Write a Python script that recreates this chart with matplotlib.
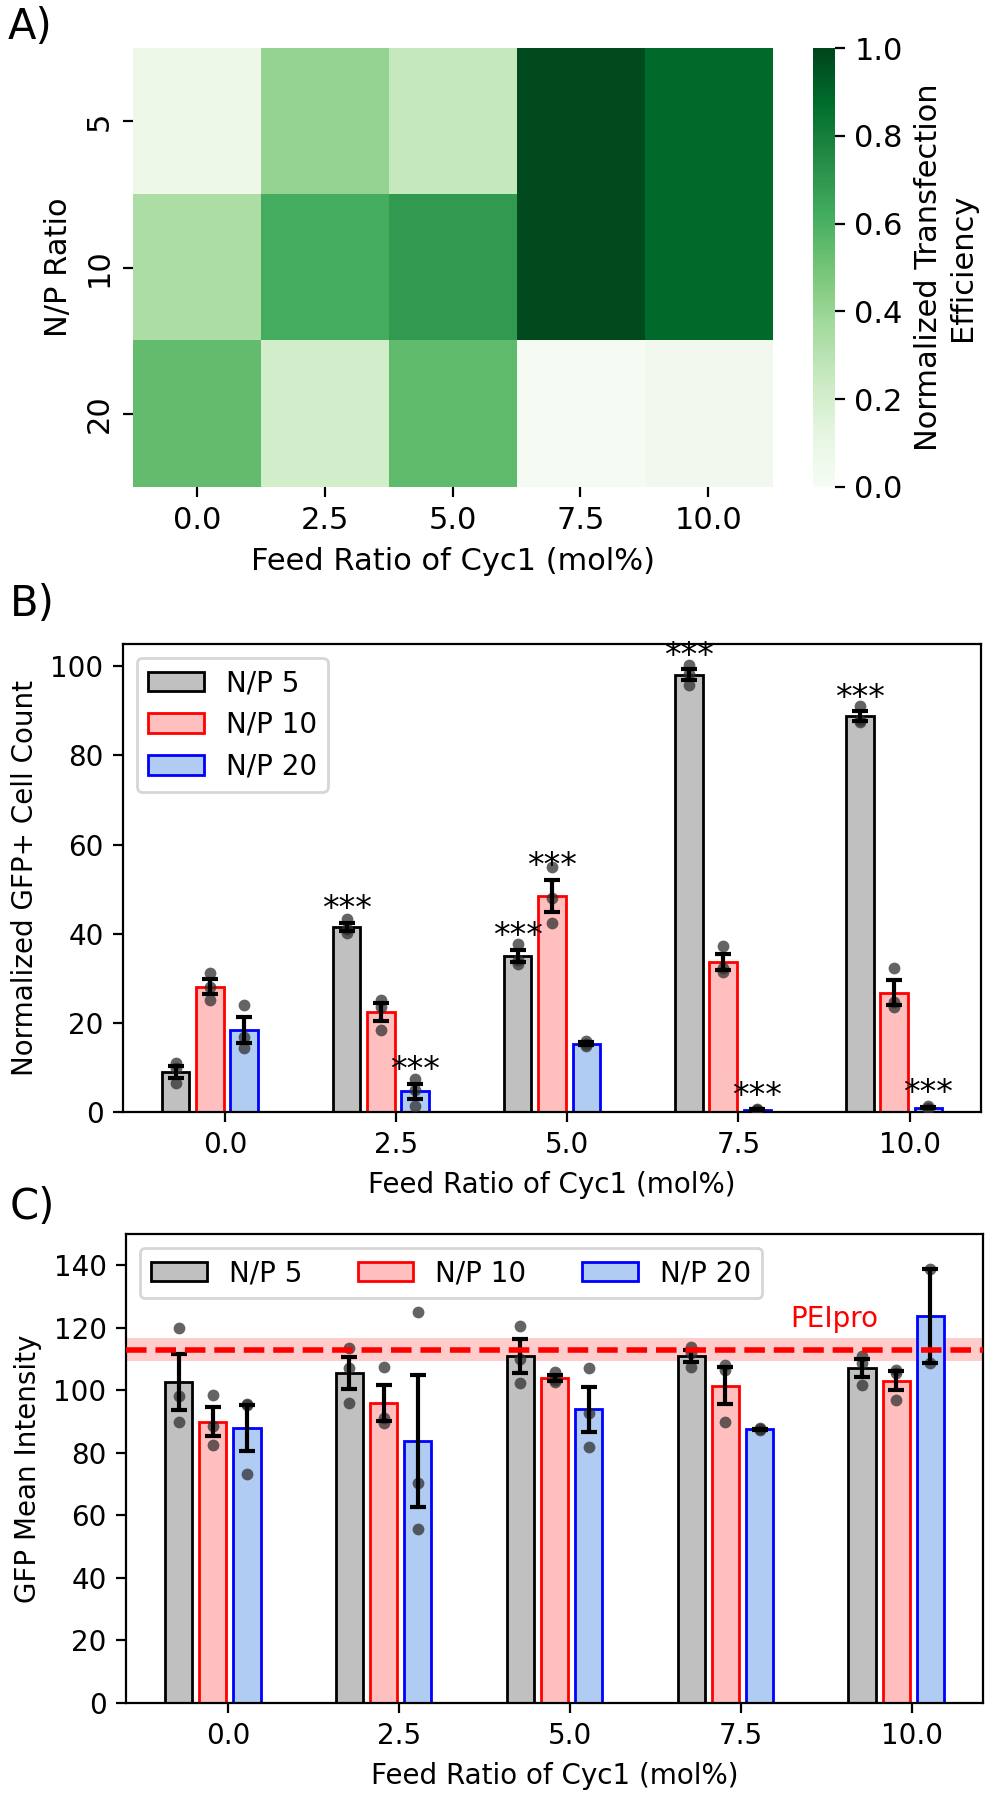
import numpy as np
import matplotlib
matplotlib.use("Agg")
import matplotlib.pyplot as plt
from matplotlib.patches import Patch

# ---------------- data ----------------
feed_labels = ["0.0", "2.5", "5.0", "7.5", "10.0"]
np_labels = ["5", "10", "20"]
series_names = ["N/P 5", "N/P 10", "N/P 20"]

# Panel A: normalized transfection efficiency (rows: N/P 5, 10, 20)
heat_np5 = [0.07, 0.41, 0.25, 0.98, 0.88]
heat_np10 = [0.34, 0.62, 0.69, 0.98, 0.88]
heat_np20 = [0.54, 0.21, 0.55, 0.01, 0.04]

# Panel B: normalized GFP+ cell count, replicate points
gfp_np5 = [[10.9, 9.8, 6.4], [43.3, 41.0, 40.2], [37.7, 34.1, 33.2], [100.2, 98.3, 95.8], [91.0, 88.0, 87.4]]
gfp_np10 = [[31.2, 28.0, 25.2], [25.2, 23.6, 18.4], [54.9, 48.1, 42.3], [37.3, 32.3, 31.5], [32.2, 24.6, 23.6]]
gfp_np20 = [[24.0, 16.8, 14.4], [7.4, 5.0, 1.4], [16.0, 15.2, 14.8], [0.7, 0.5, 0.4], [1.4, 0.9, 0.7]]
sig_np5 = ["", "***", "***", "***", "***"]
sig_np10 = ["", "", "***", "", ""]
sig_np20 = ["", "***", "", "***", "***"]

# Panel C: GFP mean intensity, replicate points
mi_np5 = [[119.9, 98.2, 90.0], [113.5, 107.0, 95.9], [120.6, 110.0, 102.3], [114.0, 111.9, 107.4], [111.0, 108.7, 101.8]]
mi_np10 = [[98.6, 88.6, 82.6], [107.6, 91.0, 89.5], [106.0, 103.4, 102.6], [108.2, 106.4, 90.0], [106.6, 105.5, 97.0]]
mi_np20 = [[95.7, 95.2, 73.3], [125.2, 70.5, 55.6], [107.1, 92.6, 82.0], [87.8, 87.5, 87.3], [138.8, 108.9]]
pei_mean = 113.0
pei_sem = 3.6

# ---------------- style ----------------
face_colors = ["#c0c0c0", "#ffbfbf", "#b0ccf3"]
edge_colors = ["black", "red", "blue"]
offsets = [-0.29, -0.09, 0.11]
bar_w = 0.16

plt.rcParams["font.family"] = "DejaVu Sans"
plt.rcParams["font.size"] = 10

W, H = 996, 1800
fig = plt.figure(figsize=(W / 200, H / 200), dpi=200)


def box(l, t, r, b):
    return [l / W, 1 - b / H, (r - l) / W, (b - t) / H]


# ---------------- Panel A ----------------
axA = fig.add_axes(box(133, 48, 772, 487))
heat = np.array([heat_np5, heat_np10, heat_np20])
im = axA.imshow(heat, cmap="Greens", vmin=0, vmax=1, aspect="auto", interpolation="nearest")
axA.set_xticks(range(len(feed_labels)))
axA.set_xticklabels(feed_labels, fontsize=11)
axA.set_yticks(range(len(np_labels)))
axA.set_yticklabels(np_labels, fontsize=11, rotation=90, va="center")
axA.set_xlabel("Feed Ratio of Cyc1 (mol%)", fontsize=11)
axA.set_ylabel("N/P Ratio", fontsize=11)
for s in axA.spines.values():
    s.set_visible(False)
cax = fig.add_axes(box(813, 48, 835, 487))
cb = fig.colorbar(im, cax=cax)
cb.outline.set_visible(False)
cb.set_ticks(np.arange(0, 1.01, 0.2))
cb.ax.tick_params(labelsize=11)
cb.set_label("Normalized Transfection\nEfficiency", fontsize=11)


def bar_panel(ax, groups, sigs=None):
    x = np.arange(len(feed_labels))
    handles = []
    for i, grp in enumerate(groups):
        means = np.array([np.mean(g) for g in grp])
        sems = np.array([np.std(g, ddof=1) / np.sqrt(len(g)) for g in grp])
        pos = x + offsets[i]
        ax.bar(pos, means, width=bar_w, color=face_colors[i], edgecolor=edge_colors[i],
               linewidth=1.0, zorder=2)
        for p, g in zip(pos, grp):
            ax.scatter([p] * len(g), g, s=18, color="#303030", alpha=0.75, zorder=3,
                       linewidths=0)
        ax.errorbar(pos, means, yerr=sems, fmt="none", ecolor="black", elinewidth=1.5,
                    capsize=3, capthick=1.5, zorder=4)
        if sigs is not None:
            for p, m, se, t in zip(pos, means, sems, sigs[i]):
                if t:
                    ax.text(p, m + se + 0.8, t, ha="center", va="baseline", fontsize=12)
        handles.append(Patch(facecolor=face_colors[i], edgecolor=edge_colors[i],
                             linewidth=1.0, label=series_names[i]))
    ax.set_xticks(x)
    ax.set_xticklabels(feed_labels)
    ax.set_xlabel("Feed Ratio of Cyc1 (mol%)")
    return handles


# ---------------- Panel B ----------------
axB = fig.add_axes(box(123, 644, 981, 1112))
hB = bar_panel(axB, [gfp_np5, gfp_np10, gfp_np20], [sig_np5, sig_np10, sig_np20])
axB.set_ylim(0, 105)
axB.set_yticks(np.arange(0, 101, 20))
axB.set_ylabel("Normalized GFP+ Cell Count")
axB.legend(handles=hB, loc="upper left")

# ---------------- Panel C ----------------
axC = fig.add_axes(box(126, 1234, 983, 1703))
hC = bar_panel(axC, [mi_np5, mi_np10, mi_np20])
axC.axhspan(pei_mean - pei_sem, pei_mean + pei_sem, color="red", alpha=0.2, lw=0, zorder=1)
axC.axhline(pei_mean, color="red", ls="--", lw=2, zorder=5)
axC.text(3.55, 120.4, "PEIpro", color="red", ha="center", va="baseline")
axC.set_ylim(0, 150)
axC.set_yticks(np.arange(0, 141, 20))
axC.set_ylabel("GFP Mean Intensity")
axC.legend(handles=hC, loc="upper left", ncol=3)

# panel letters
fig.text(8 / W, 1 - 39 / H, "A)", fontsize=15, va="baseline")
fig.text(10 / W, 1 - 616 / H, "B)", fontsize=15, va="baseline")
fig.text(10 / W, 1 - 1219 / H, "C)", fontsize=15, va="baseline")

fig.savefig("out.png", dpi=200)
